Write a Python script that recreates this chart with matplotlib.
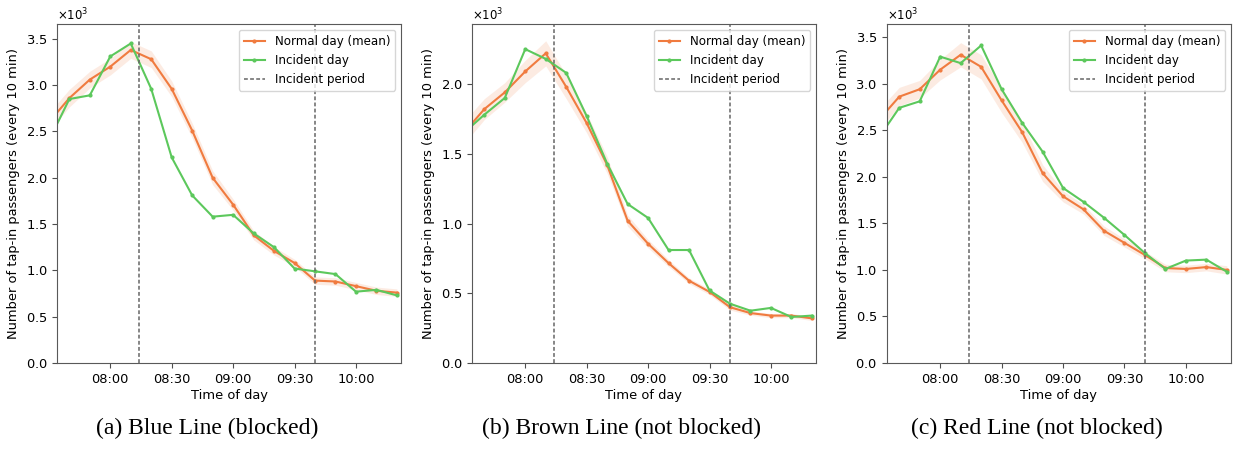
import matplotlib
matplotlib.use('Agg')
import matplotlib.pyplot as plt
import matplotlib.dates as mdates
import numpy as np
import pandas as pd

# time axis: every 10 min from 07:30 to 10:20
times = pd.date_range('2019-01-01 07:30', periods=18, freq='10min')
x_start = pd.Timestamp('2019-01-01 07:34')
x_end = pd.Timestamp('2019-01-01 10:22')
incident_start = pd.Timestamp('2019-01-01 08:14')
incident_end = pd.Timestamp('2019-01-01 09:40')

# (a) Blue Line
blue_normal = [2600, 2860, 3060, 3200, 3380, 3280, 2960, 2510, 2000, 1710, 1380, 1210, 1080, 890, 880, 830, 780, 760]
blue_std = [100, 95, 90, 90, 90, 90, 85, 80, 75, 60, 50, 45, 40, 40, 40, 40, 40, 40]
blue_incident = [2400, 2850, 2890, 3310, 3450, 2960, 2220, 1810, 1580, 1600, 1400, 1250, 1020, 990, 960, 770, 790, 730]

# (b) Brown Line
brown_normal = [1650, 1820, 1940, 2090, 2220, 1980, 1720, 1420, 1020, 855, 716, 590, 510, 400, 358, 340, 340, 320]
brown_std = [80, 75, 70, 80, 90, 85, 70, 60, 40, 30, 25, 20, 20, 20, 15, 15, 15, 15]
brown_incident = [1650, 1780, 1900, 2250, 2180, 2080, 1770, 1430, 1140, 1040, 810, 810, 520, 425, 375, 395, 330, 340]

# (c) Red Line
red_normal = [2610, 2860, 2940, 3150, 3310, 3180, 2820, 2480, 2040, 1790, 1650, 1420, 1290, 1160, 1020, 1010, 1030, 1000]
red_std = [110, 100, 95, 110, 130, 130, 130, 110, 90, 60, 50, 50, 45, 40, 40, 40, 40, 45]
red_incident = [2420, 2740, 2810, 3290, 3220, 3410, 2940, 2580, 2270, 1880, 1730, 1560, 1375, 1180, 1010, 1100, 1110, 980]

panels = [
    ('(a) Blue Line (blocked)', blue_normal, blue_std, blue_incident, 3660),
    ('(b) Brown Line (not blocked)', brown_normal, brown_std, brown_incident, 2430),
    ('(c) Red Line (not blocked)', red_normal, red_std, red_incident, 3640),
]

orange = '#f07b3f'
green = '#5cc85c'

fig = plt.figure(figsize=(12.35, 4.5), dpi=100)
lefts = [0.0462, 0.3822, 0.7182]
caption_x = [0.1676, 0.5032, 0.8397]

for i, (title, normal, std, incident, ytop) in enumerate(panels):
    ax = fig.add_axes([lefts[i], 0.1933, 0.2785, 0.7533])
    normal = np.array(normal)
    std = np.array(std)
    ax.fill_between(times, normal - std, normal + std, color=orange, alpha=0.15, linewidth=0)
    ax.plot(times, normal, color=orange, marker='o', markersize=2, linewidth=1.5, label='Normal day (mean)')
    ax.plot(times, incident, color=green, marker='o', markersize=2, linewidth=1.5, label='Incident day')
    ax.axvline(incident_start, color='0.4', linestyle=(0, (2.5, 1.5)), linewidth=1.1, label='Incident period')
    ax.axvline(incident_end, color='0.4', linestyle=(0, (2.5, 1.5)), linewidth=1.1)

    ax.set_xlim(x_start, x_end)
    ax.set_ylim(0, ytop)
    ax.xaxis.set_major_locator(mdates.MinuteLocator(byminute=[0, 30]))
    ax.xaxis.set_major_formatter(mdates.DateFormatter('%H:%M'))
    ax.ticklabel_format(axis='y', style='sci', scilimits=(0, 0), useMathText=True)
    ax.yaxis.get_offset_text().set_fontsize(8.5)
    ax.tick_params(labelsize=9.4, color='0.3')
    for sp in ax.spines.values():
        sp.set_color('0.35')

    ax.set_xlabel('Time of day', fontsize=9.4, labelpad=2)
    ax.set_ylabel('Number of tap-in passengers (every 10 min)', fontsize=9.4)
    ax.legend(loc='upper right', fontsize=8.6, handlelength=1.8)

    fig.text(caption_x[i], 0.047, title, ha='center', va='center',
             fontsize=17, family='Liberation Serif')

plt.savefig('out.png', dpi=100)
